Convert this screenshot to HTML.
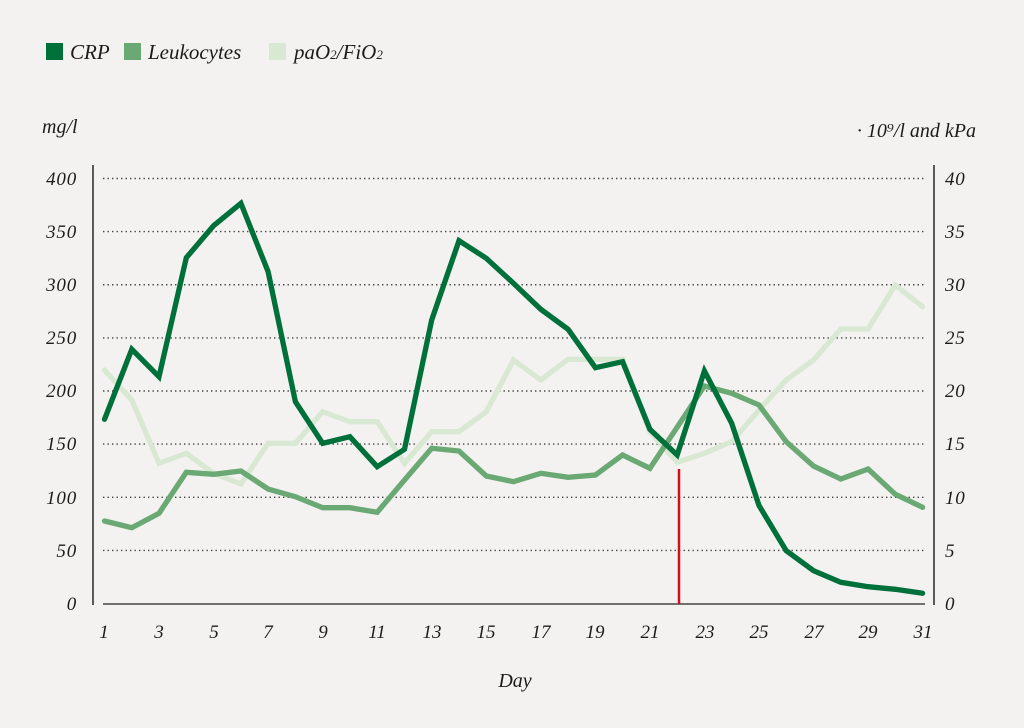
<!DOCTYPE html>
<html><head><meta charset="utf-8"><style>
html,body{margin:0;padding:0;background:#f3f2f0;}
svg{display:block;}
text{font-family:"Liberation Serif",serif;font-style:italic;fill:#1c1c1c;}
</style></head><body>
<svg width="1024" height="728" viewBox="0 0 1024 728" xmlns="http://www.w3.org/2000/svg">
<rect width="1024" height="728" fill="#f3f2f0"/>
<!-- legend -->
<rect x="46" y="43" width="17" height="17" fill="#00703a"/>
<text x="70" y="59" font-size="21">CRP</text>
<rect x="124" y="43" width="17" height="17" fill="#6aa874"/>
<text x="148" y="59" font-size="21">Leukocytes</text>
<rect x="269" y="43" width="17" height="17" fill="#d9e8d3"/>
<text x="294" y="59" font-size="21">paO<tspan font-size="13">2</tspan>/FiO<tspan font-size="13">2</tspan></text>
<!-- axis titles -->
<text x="42" y="133" font-size="20">mg/l</text>
<text x="976" y="137" font-size="20" text-anchor="end">· 10⁹/l and kPa</text>
<!-- grid -->
<g stroke="#444" stroke-width="1.4" stroke-dasharray="1.4 3.1">
<line x1="103" x2="925" y1="550.4" y2="550.4"/>
<line x1="103" x2="925" y1="497.3" y2="497.3"/>
<line x1="103" x2="925" y1="444.1" y2="444.1"/>
<line x1="103" x2="925" y1="391" y2="391"/>
<line x1="103" x2="925" y1="337.9" y2="337.9"/>
<line x1="103" x2="925" y1="284.75" y2="284.75"/>
<line x1="103" x2="925" y1="231.6" y2="231.6"/>
<line x1="103" x2="925" y1="178.5" y2="178.5"/>
</g>
<!-- axes -->
<line x1="93" y1="165" x2="93" y2="605" stroke="#333" stroke-width="1.6"/>
<line x1="934" y1="165" x2="934" y2="605" stroke="#333" stroke-width="1.6"/>
<line x1="103" y1="604" x2="925" y2="604" stroke="#444" stroke-width="1.6"/>
<!-- left labels -->
<g font-size="19" text-anchor="end" letter-spacing="0.8">
<text x="77" y="610">0</text>
<text x="77" y="557">50</text>
<text x="77" y="504">100</text>
<text x="77" y="450">150</text>
<text x="77" y="397">200</text>
<text x="77" y="344">250</text>
<text x="77" y="291">300</text>
<text x="77" y="238">350</text>
<text x="77" y="185">400</text>
</g>
<g font-size="19" letter-spacing="0.8">
<text x="945" y="610">0</text>
<text x="945" y="557">5</text>
<text x="945" y="504">10</text>
<text x="945" y="450">15</text>
<text x="945" y="397">20</text>
<text x="945" y="344">25</text>
<text x="945" y="291">30</text>
<text x="945" y="238">35</text>
<text x="945" y="185">40</text>
</g>
<!-- x labels -->
<g font-size="19" text-anchor="middle">
<text x="104" y="638">1</text>
<text x="159" y="638">3</text>
<text x="214" y="638">5</text>
<text x="268" y="638">7</text>
<text x="323" y="638">9</text>
<text x="377" y="638">11</text>
<text x="432" y="638">13</text>
<text x="486" y="638">15</text>
<text x="541" y="638">17</text>
<text x="595" y="638">19</text>
<text x="650" y="638">21</text>
<text x="705" y="638">23</text>
<text x="759" y="638">25</text>
<text x="814" y="638">27</text>
<text x="868" y="638">29</text>
<text x="923" y="638">31</text>
</g>
<text x="515" y="687" font-size="20" text-anchor="middle">Day</text>
<!-- red marker -->
<line x1="679" y1="469" x2="679" y2="604" stroke="#d0101a" stroke-width="2.5"/>
<!-- series -->
<g fill="none" stroke-linejoin="miter" stroke-linecap="round" stroke-width="5.3">
<polyline stroke="#d9e8d3" points="104.5,370 131.8,400 159,463.3 186.3,453.3 213.6,473.3 240.9,484 268.1,443.3 295.4,443.3 322.7,411.7 349.9,421.7 377.2,421.7 404.5,463.3 431.7,431.7 459,431.7 486.3,411.7 513.5,360 540.8,380 568.1,359.3 595.4,359.3 622.6,359.3 649.9,431.7 677.2,462.3 704.4,453.3 731.7,441.7 759,410 786.2,380 813.5,360 840.8,329 868.1,329 895.3,285 922.6,306.7"/>
<polyline stroke="#6aa874" points="104.5,521 131.8,527.7 159,513.3 186.3,472.3 213.6,474.3 240.9,471 268.1,489 295.4,496.7 322.7,507.7 349.9,507.7 377.2,512.3 404.5,480 431.7,448.3 459,451 486.3,476 513.5,481.7 540.8,473.3 568.1,477.3 595.4,475 622.6,455 649.9,468.3 704.4,386 731.7,393.3 759,405 786.2,441.7 813.5,466 840.8,479 868.1,469 895.3,494.3 922.6,507.3"/>
<polyline stroke="#00703a" points="104.5,419.3 131.8,349.3 159,376.7 186.3,257.7 213.6,225.7 240.9,203.3 268.1,271.7 295.4,401.7 322.7,443.3 349.9,436.7 377.2,466.7 404.5,449.3 431.7,320 459,240.7 486.3,258.3 513.5,283.3 540.8,309.3 568.1,329.3 595.4,367.7 622.6,361.7 649.9,429.3 677.2,455 704.4,371 731.7,423.3 759,505.5 786.2,550.7 813.5,570.7 840.8,582.3 868.1,586.7 895.3,589.3 922.6,593.3"/>
</g>
</svg>
</body></html>
